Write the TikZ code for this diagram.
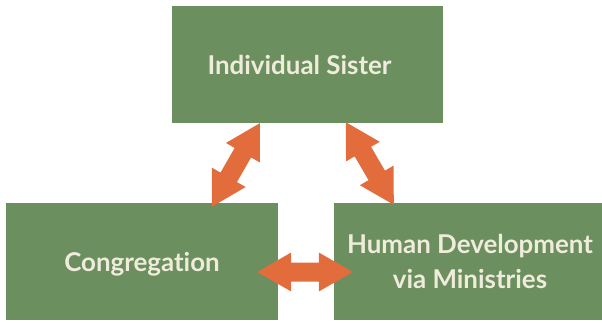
\documentclass[tikz,border=0pt]{standalone}
\usepackage{fontspec}
\setmainfont{Lato}[Ligatures={NoCommon,NoRare}]
\usetikzlibrary{calc}
\definecolor{boxgreen}{RGB}{107,143,94}
\definecolor{txtcream}{RGB}{240,236,220}
\definecolor{arroworange}{RGB}{227,108,61}
\tikzset{
  box/.style={rectangle, fill=boxgreen, draw=none, inner sep=0pt, minimum height=117bp},
  boxtext/.style={inner sep=0pt, text=txtcream, font=\bfseries\fontsize{26}{35}\selectfont,
    align=center, text depth=0bp},
  arrowfill/.style={fill=arroworange, draw=none},
}
\newcommand\twowayarrow[2]{%
  \coordinate (h1) at ($(#1)!34bp!(#2)$);
  \coordinate (h2) at ($(#2)!34bp!(#1)$);
  \fill[arrowfill] (#1)
    -- ($(h1)!19.5bp!90:(#2)$) -- ($(h1)!9.5bp!90:(#2)$)
    -- ($(h2)!9.5bp!90:(#2)$) -- ($(h2)!19.5bp!90:(#2)$)
    -- (#2)
    -- ($(h2)!19.5bp!-90:(#2)$) -- ($(h2)!9.5bp!-90:(#2)$)
    -- ($(h1)!9.5bp!-90:(#2)$) -- ($(h1)!19.5bp!-90:(#2)$)
    -- cycle;
}
\begin{document}
\begin{tikzpicture}[x=1bp, y=-1bp]
  \useasboundingbox (0,0) rectangle (602,322);
  \node[box, minimum width=271bp] (sister) at (307.5,64.5) {};
  \node[box, minimum width=272bp] (cong) at (142,261.5) {};
  \node[box, minimum width=268bp] (human) at (468,261.5) {};
  \node[boxtext, text height=19bp] (sistertxt) at ($(sister.center)+(-8,0)$) {Individual Sister};
  \node[boxtext, text height=19bp] (congtxt) at (cong.center) {Congregation};
  \node[boxtext, text height=54bp] (humantxt) at ($(human.center)+(2,0)$) {Human Development\\via Ministries};
  \coordinate (a1) at ($(sister.south west)+(88,0)$);
  \coordinate (a2) at ($(cong.north west)+(206,4)$);
  \coordinate (b1) at ($(sister.south west)+(174,-1)$);
  \coordinate (b2) at ($(human.north west)+(60,2)$);
  \coordinate (c1) at ($(cong.east)+(-21,10.5)$);
  \coordinate (c2) at ($(human.west)+(19,10.5)$);
  \twowayarrow{a1}{a2}
  \twowayarrow{b1}{b2}
  \twowayarrow{c1}{c2}
\end{tikzpicture}
\end{document}
